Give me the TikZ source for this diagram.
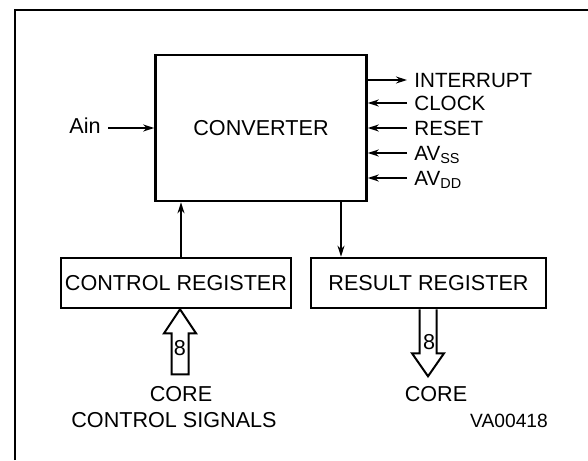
\documentclass[tikz,border=0pt]{standalone}
\usepackage{fontspec}
\setmainfont{Liberation Sans}
\usepackage{tikz}
\usetikzlibrary{arrows.meta,positioning,calc}
\tikzset{
  blk/.style={rectangle,draw,line width=1.3pt,inner sep=0pt,
              text centered,font=\fontsize{10.8}{13}\selectfont},
  arr/.style={-{Stealth[length=5.5pt,width=3.5pt]},line width=0.7pt},
  bus/.style={line width=1pt,line join=miter},
  lbl/.style={inner xsep=3.5pt,inner ysep=0pt,text height=0.72em,text depth=0pt,
              font=\fontsize{10.8}{13}\selectfont},
  pin/.style={lbl,anchor=west,font=\fontsize{10.3}{12}\selectfont},
  frm/.style={line width=1.2pt}
}

\begin{document}
\begin{tikzpicture}[x=0.5pt,y=-0.5pt]
  \useasboundingbox (0,0) rectangle (588,460);

  % Frame
  \draw[frm] (15,460) -- (15,10) -- (588,10);

  % Blocks
  \node[blk,minimum width=105.5pt,minimum height=73pt] (conv) at (261,128) {CONVERTER};
  \node[blk,minimum width=115pt,minimum height=25pt] (ctrl) at (176,283) {CONTROL REGISTER};
  \node[blk,minimum width=117.5pt,minimum height=25pt] (res) at (428.5,283) {RESULT REGISTER};

  % Signals on the right
  \node[pin] (intr) at (407,80) {INTERRUPT};
  \node[pin] (clk) at (407,103) {CLOCK};
  \node[pin] (rst) at (407,128) {RESET};
  \node[pin] (avss) at (407,153) {AV\textsubscript{SS}};
  \node[pin] (avdd) at (407,178) {AV\textsubscript{DD}};
  \draw[arr](intr.west -| conv.east)--(intr.west);
  \draw[arr](clk.west)--(clk.west -| conv.east);
  \draw[arr](rst.west)--(rst.west -| conv.east);
  \draw[arr](avss.west)--(avss.west -| conv.east);
  \draw[arr](avdd.west)--(avdd.west -| conv.east);

  % Analog input
  \node[lbl,anchor=east] (ain) at (108,126) {Ain};
  \draw[arr](ain.east |- conv.west)--(conv.west);

  % Register links
  \coordinate (upx) at (181,0);
  \coordinate (dnx) at (341,0);
  \draw[arr](ctrl.north -| upx)--(conv.south -| upx);
  \draw[arr](conv.south -| dnx)--(res.north -| dnx);

  % Buses
  \coordinate (busin) at (180,0);
  \coordinate (busout) at (428,0);
  \draw[bus](ctrl.south -| busin) -- ++(16,24) -- ++(-7.5,0) -- ++(0,41)
    -- ++(-17,0) -- ++(0,-41) -- ++(-7.5,0) -- cycle;
  \draw[bus]($(res.south -| busout)+(-8.5,0)$) -- ++(0,44) -- ++(-7.5,0)
    -- ++(16,23) -- ++(16,-23) -- ++(-7.5,0) -- ++(0,-44);
  \node[lbl,inner xsep=0pt] (bw1) at (180,348) {8};
  \node[lbl,inner xsep=0pt] (bw2) at (429,342) {8};

  \node[lbl] (corein) at (181,394.5) {CORE};
  \node[lbl] (sigs) at (174,420.5) {CONTROL SIGNALS};
  \node[lbl] (coreout) at (436,394.5) {CORE};
  \node[lbl,font=\fontsize{9.6}{12}\selectfont] (ref) at (509,420) {VA00418};
\end{tikzpicture}
\end{document}
